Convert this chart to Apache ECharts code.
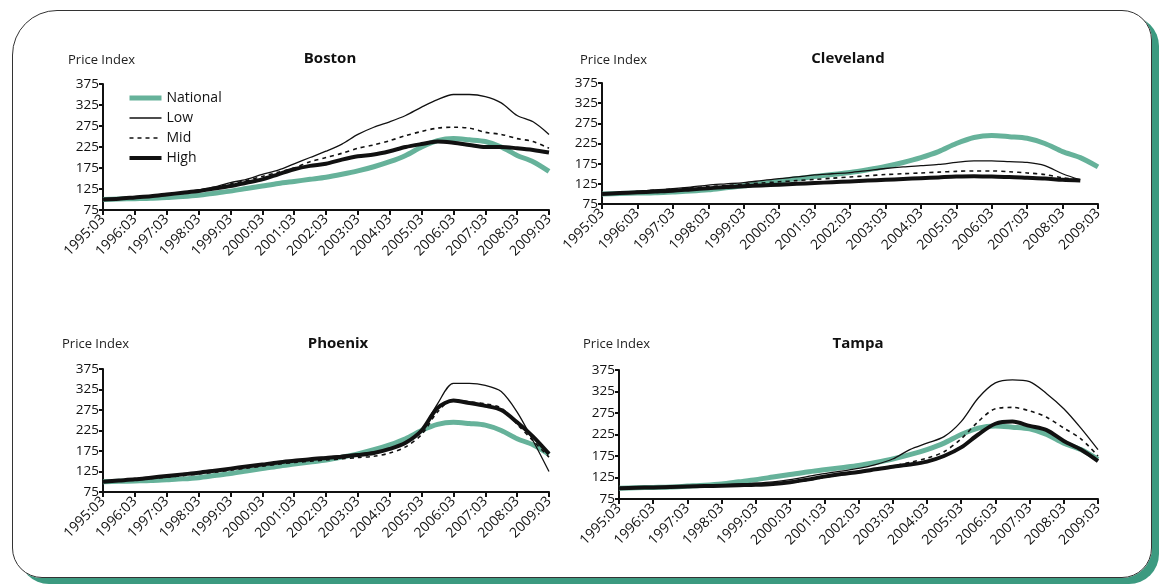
<!DOCTYPE html>
<html><head><meta charset="utf-8">
<script src="https://cdn.jsdelivr.net/npm/echarts@6/dist/echarts.min.js"></script>
<style>
html,body{margin:0;padding:0;background:#fff;}
#frame{position:absolute;left:12px;top:10px;width:1138px;height:566px;border:1.5px solid #333;border-radius:45px 30px 30px 30px;box-shadow:7px 6px 0 #3c9a80;}
#c{position:absolute;left:0;top:0;width:1165px;height:586px;}
</style></head><body>
<div id="frame"></div>
<div id="c"></div>
<script>
var years=[];for(var y=1995;y<=2009;y++){years.push(y+':03');if(y<2009)years.push(y+':09');}
var national=[100,101,102,103,105,107,110,115,120,126,132,138,143,148,153,160,168,178,190,205,225,240,245,242,238,225,205,190,167];
var cities=['Boston','Cleveland','Phoenix','Tampa'];
var low={
Boston:[100,102,105,108,112,117,123,130,140,148,160,170,185,200,215,232,255,272,285,300,320,338,350,350,345,330,300,285,255],
Cleveland:[100,103,106,110,113,117,122,125,128,133,138,142,147,150,153,158,163,167,170,173,178,182,182,180,178,170,150,135,null],
Phoenix:[100,103,106,110,113,117,121,126,131,136,142,148,152,156,160,164,168,172,180,195,225,290,340,340,335,320,270,200,125],
Tampa:[100,101,102,103,104,106,108,110,112,115,120,127,134,140,146,155,168,190,205,220,255,310,345,352,348,320,285,240,190]};
var mid={
Boston:[100,102,105,108,111,116,122,128,137,145,155,165,175,190,200,210,222,230,240,252,262,270,272,270,260,255,245,238,222],
Cleveland:[100,103,106,109,112,115,118,121,124,127,130,133,136,139,142,145,148,150,152,154,156,157,157,155,152,148,140,135,null],
Phoenix:[100,102,105,108,111,115,119,123,128,133,138,143,147,150,153,156,159,162,170,185,215,270,300,295,290,280,240,200,160],
Tampa:[100,101,102,103,104,105,106,107,108,110,113,118,125,132,138,144,152,160,170,185,215,255,285,288,280,265,240,215,175]};
var high={
Boston:[100,102,105,108,112,116,120,126,132,140,148,160,172,180,185,195,203,207,215,225,232,238,235,230,225,225,222,218,212],
Cleveland:[100,102,104,106,108,111,114,117,119,121,123,125,127,129,131,133,135,137,139,141,143,144,143,142,140,138,135,133,null],
Phoenix:[100,103,106,110,114,118,122,127,132,137,142,147,151,155,158,161,165,170,180,195,225,280,298,292,285,275,245,210,168],
Tampa:[100,101,102,103,104,105,106,107,108,110,114,120,127,133,138,144,150,155,162,175,195,225,250,255,245,235,210,190,163]};

var grids=[{left:103,right:616,top:84,height:126},{left:602,right:67,top:83,height:121},
{left:103,right:616,top:369,height:123},{left:619,right:67,top:370,height:129}];
var titlePos=[[325,46],[843,46],[333,331],[853,331]];
var piPos=[[63,49],[575,49],[57,333],[578,333]];
var font='"Open Sans", Lato, sans-serif';
var styles={National:{color:'#66b29a',width:5},Low:{color:'#111',width:1.3},Mid:{color:'#111',width:1.6,type:[4,4]},High:{color:'#111',width:4}};
var opt={animation:false,grid:grids,xAxis:[],yAxis:[],series:[],title:[],
legend:{left:122,top:86,orient:'vertical',itemWidth:32,itemHeight:12,itemGap:6,
 itemStyle:{opacity:0},
 textStyle:{fontSize:14,color:'#111',fontFamily:font},
 data:['National','Low','Mid','High'].map(function(n){return {name:n,lineStyle:styles[n],itemStyle:{opacity:0}};})}};
cities.forEach(function(c,i){
 opt.title.push({text:c,left:titlePos[i][0],top:titlePos[i][1],textAlign:'center',textStyle:{fontSize:15,fontWeight:'bold',color:'#111',fontFamily:font}});
 opt.title.push({text:'Price Index',left:piPos[i][0],top:piPos[i][1],textStyle:{fontSize:13,fontWeight:'normal',color:'#222',fontFamily:font}});
 opt.xAxis.push({type:'category',gridIndex:i,data:years,boundaryGap:false,
  axisLine:{lineStyle:{color:'#111',width:2}},axisTick:{interval:1,lineStyle:{color:'#111',width:2},length:5},
  axisLabel:{interval:1,rotate:45,fontSize:14,color:'#111',fontFamily:font,margin:7}});
 opt.yAxis.push({type:'value',gridIndex:i,min:75,max:375,interval:50,splitLine:{show:false},
  axisLine:{show:true,lineStyle:{color:'#111',width:2}},axisTick:{show:true,lineStyle:{color:'#111',width:2},length:4},
  axisLabel:{fontSize:13.5,color:'#111',fontFamily:font,margin:4}});
 var base={type:'line',xAxisIndex:i,yAxisIndex:i,showSymbol:false,symbol:'none',smooth:0.3};
 ['National','Low','Mid','High'].forEach(function(n){
  var d=n==='National'?national:(n==='Low'?low:(n==='Mid'?mid:high))[c];
  opt.series.push(Object.assign({},base,{name:n,data:d,lineStyle:styles[n],itemStyle:{color:styles[n].color}}));
 });
});
var ch=echarts.init(document.getElementById('c'));ch.setOption(opt);
</script></body></html>
